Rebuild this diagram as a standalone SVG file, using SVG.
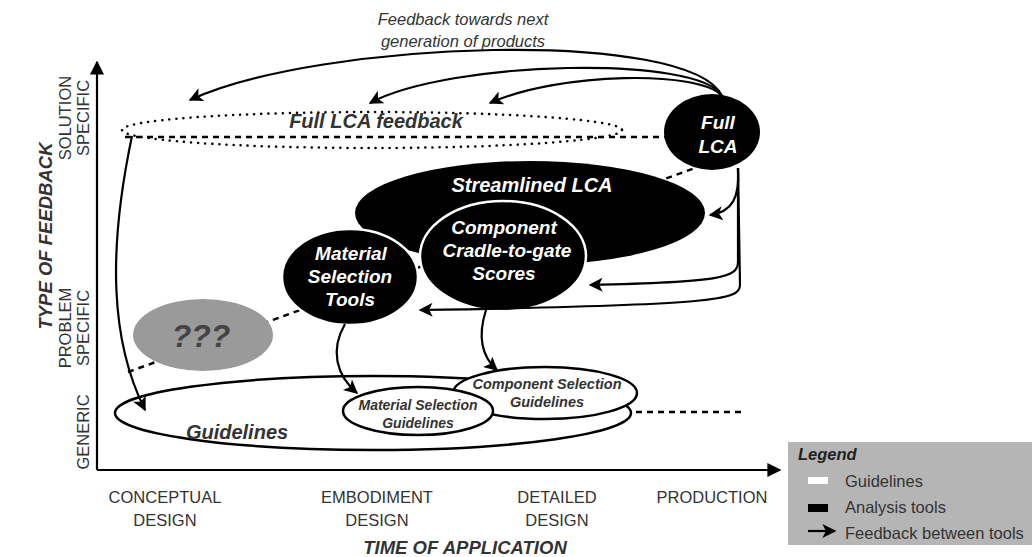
<svg xmlns="http://www.w3.org/2000/svg" width="1032" height="557" viewBox="0 0 1032 557">
<style>
.t{font-family:"Liberation Sans",Arial,sans-serif;fill:#333}
.bi{font-weight:bold;font-style:italic}
.ax{font-size:16.5px}
.ln{fill:none;stroke:#000;stroke-width:2.2}
.dash{fill:none;stroke:#000;stroke-width:2.5;stroke-dasharray:6 5}
.dot{fill:none;stroke:#000;stroke-width:2.5;stroke-dasharray:0.1 7;stroke-linecap:round}
</style>
<defs>
<marker id="ah2" viewBox="0 0 10 10" refX="9" refY="5" markerWidth="16" markerHeight="14" markerUnits="userSpaceOnUse" orient="auto"><path d="M0,0 L10,5 L0,10 L2.5,5 Z" fill="#000"/></marker>
<marker id="axh" viewBox="0 0 10 10" refX="9" refY="5" markerWidth="14" markerHeight="14" markerUnits="userSpaceOnUse" orient="auto"><path d="M0,0 L10,5 L0,10 Z" fill="#000"/></marker>
</defs>
<rect width="1032" height="557" fill="#fff"/>

<g id="axes">
<path d="M97,470 L97,62" class="ln" stroke-width="2.5" marker-end="url(#axh)"/>
<path d="M97,470 L780,470" class="ln" stroke-width="2.5" marker-end="url(#axh)"/>
</g>

<g id="trend">
<path d="M128,372 L695,168" class="dash"/>
<path d="M125,137 L665,137" class="dash"/>
<path d="M130,412 L745,412" class="dash"/>
</g>

<g id="full-lca-feedback">
<ellipse cx="372" cy="130" rx="250" ry="18" class="dot"/>
<text x="376" y="128" class="t bi" font-size="20" text-anchor="middle">Full LCA feedback</text>
</g>

<g id="guidelines">
<ellipse cx="373" cy="413" rx="258" ry="37" fill="#fff" stroke="#000" stroke-width="2.5"/>
<text x="237" y="439" class="t bi" font-size="20" text-anchor="middle">Guidelines</text>
</g>

<g id="component-selection-guidelines">
<ellipse cx="545" cy="393" rx="92" ry="26" fill="#fff" stroke="#000" stroke-width="2.5"/>
<text x="547" y="389" class="t bi" font-size="14.5" text-anchor="middle">Component Selection</text>
<text x="547" y="407" class="t bi" font-size="14.5" text-anchor="middle">Guidelines</text>
</g>

<g id="material-selection-guidelines">
<ellipse cx="418" cy="411" rx="75" ry="24" fill="#fff" stroke="#000" stroke-width="2.5"/>
<text x="418" y="410" class="t bi" font-size="14" text-anchor="middle">Material Selection</text>
<text x="418" y="428" class="t bi" font-size="14" text-anchor="middle">Guidelines</text>
</g>

<g id="unknown">
<ellipse cx="203" cy="335" rx="70" ry="36" fill="#9a9a9a"/>
<text x="201" y="347" class="t" font-size="32" font-style="italic" font-weight="bold" style="fill:#444" text-anchor="middle">???</text>
</g>

<g id="streamlined-lca">
<ellipse cx="530" cy="213" rx="175" ry="52" fill="#000"/>
<text x="532" y="192" class="t bi" font-size="20" style="fill:#fff" text-anchor="middle">Streamlined LCA</text>
</g>

<g id="component-scores">
<ellipse cx="503" cy="256" rx="83" ry="55" fill="#000" stroke="#fff" stroke-width="2.5"/>
<text x="504" y="234" class="t bi" font-size="19" style="fill:#fff" text-anchor="middle">Component</text>
<text x="507" y="257" class="t bi" font-size="19" style="fill:#fff" text-anchor="middle">Cradle-to-gate</text>
<text x="504" y="280" class="t bi" font-size="19" style="fill:#fff" text-anchor="middle">Scores</text>
</g>

<g id="material-selection-tools">
<ellipse cx="350" cy="277" rx="68" ry="48" fill="#000" stroke="#fff" stroke-width="2.5"/>
<text x="351" y="260" class="t bi" font-size="19" style="fill:#fff" text-anchor="middle">Material</text>
<text x="350" y="283" class="t bi" font-size="19" style="fill:#fff" text-anchor="middle">Selection</text>
<text x="350" y="306" class="t bi" font-size="19" style="fill:#fff" text-anchor="middle">Tools</text>
</g>

<g id="full-lca">
<ellipse cx="712" cy="132" rx="48" ry="38" fill="#000"/>
<text x="718" y="129" class="t bi" font-size="19" style="fill:#fff" text-anchor="middle">Full</text>
<text x="718" y="153" class="t bi" font-size="19" style="fill:#fff" text-anchor="middle">LCA</text>
</g>

<g id="connectors">
<path d="M722,96 C690,28 320,40 190,100" class="ln" marker-end="url(#ah2)"/>
<path d="M722,96 C700,55 450,60 370,103" class="ln" marker-end="url(#ah2)"/>
<path d="M722,96 C700,70 560,72 490,103" class="ln" marker-end="url(#ah2)"/>
<path d="M132,136 C108,250 110,340 145,410" class="ln" marker-end="url(#ah2)"/>
<path d="M738,168 C740,198 732,212 710,215" class="ln" marker-end="url(#ah2)"/>
<path d="M738,168 L738,262 C738,278 720,282 590,285" class="ln" marker-end="url(#ah2)"/>
<path d="M738,168 L740,285 C740,300 720,305 420,310" class="ln" marker-end="url(#ah2)"/>
<path d="M345,324 C330,350 336,375 357,393" class="ln" marker-end="url(#ah2)"/>
<path d="M486,310 C478,335 480,355 497,370" class="ln" marker-end="url(#ah2)"/>
</g>

<g id="labels">
<text x="463" y="25" class="t" font-size="16.5" font-style="italic" text-anchor="middle">Feedback towards next</text>
<text x="463" y="47" class="t" font-size="16.5" font-style="italic" text-anchor="middle">generation of products</text>
<text x="165" y="503" class="t ax" text-anchor="middle">CONCEPTUAL</text>
<text x="165" y="526" class="t ax" text-anchor="middle">DESIGN</text>
<text x="377" y="503" class="t ax" text-anchor="middle">EMBODIMENT</text>
<text x="377" y="526" class="t ax" text-anchor="middle">DESIGN</text>
<text x="557" y="503" class="t ax" text-anchor="middle">DETAILED</text>
<text x="557" y="526" class="t ax" text-anchor="middle">DESIGN</text>
<text x="712" y="503" class="t ax" text-anchor="middle">PRODUCTION</text>
<text x="465" y="554" class="t bi" font-size="18.5" text-anchor="middle">TIME OF APPLICATION</text>
<text transform="translate(52,236) rotate(-90)" class="t bi" font-size="18.5" text-anchor="middle">TYPE OF FEEDBACK</text>
<text transform="translate(71,118) rotate(-90)" class="t ax" text-anchor="middle">SOLUTION</text>
<text transform="translate(89,118) rotate(-90)" class="t ax" text-anchor="middle">SPECIFIC</text>
<text transform="translate(71,328) rotate(-90)" class="t ax" text-anchor="middle">PROBLEM</text>
<text transform="translate(89,328) rotate(-90)" class="t ax" text-anchor="middle">SPECIFIC</text>
<text transform="translate(89,432) rotate(-90)" class="t ax" text-anchor="middle">GENERIC</text>
</g>

<g id="legend">
<rect x="788" y="442" width="244" height="103" fill="#b5b5b5"/>
<text x="798" y="460" class="t" font-size="16.5" font-style="italic" font-weight="bold" style="fill:#222">Legend</text>
<rect x="808" y="477" width="20" height="7" fill="#fff"/>
<text x="845" y="487" class="t" font-size="16.5" style="fill:#333">Guidelines</text>
<rect x="808" y="504" width="20" height="8" fill="#000"/>
<text x="845" y="513" class="t" font-size="16.5" style="fill:#333">Analysis tools</text>
<path d="M808,531 L835,531" class="ln" marker-end="url(#ah2)"/>
<text x="845" y="539" class="t" font-size="16.5" style="fill:#333">Feedback between tools</text>
</g>
</svg>
